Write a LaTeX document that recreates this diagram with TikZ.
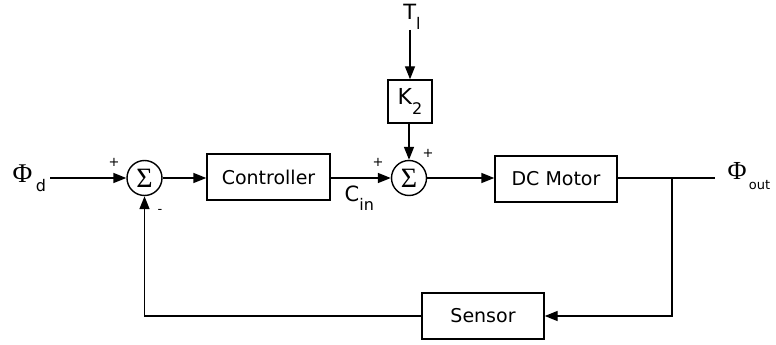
\documentclass[tikz,border=0pt]{standalone}
\usepackage{fontspec}
\setmainfont{DejaVu Sans}
\newfontfamily\grkfont{Liberation Serif}
\usetikzlibrary{positioning, arrows.meta}
\newcommand{\lowtxt}[1]{\raisebox{-0.45em}{\fontsize{16}{18}\selectfont #1}}

\begin{document}
\begin{tikzpicture}[x=1pt, y=-1pt, line width=1.4pt,
    >={Triangle[length=13pt, width=10pt]},
    block/.style={draw, rectangle, inner sep=0pt, minimum height=46pt,
      font=\fontsize{19}{21}\selectfont},
    sumnode/.style={draw, circle, minimum size=35pt, inner sep=0pt,
      font=\grkfont\fontsize{28}{30}\selectfont},
    sig/.style={inner sep=0pt, font=\fontsize{21}{23}\selectfont},
    sgn/.style={inner sep=0pt, font=\fontsize{13}{15}\selectfont}]
  \useasboundingbox (0,0) rectangle (776,345);
  % Bloques
  \node[sumnode] (sumA) at (144.5,178) {Σ};
  \node[block, minimum width=123pt] (ctrl) at (268.5,177) {Controller};
  \node[sumnode] (sumB) at (409,178) {Σ};
  \node[block, minimum width=122pt] (motor) at (556,179) {DC Motor};
  \node[block, minimum width=44pt, minimum height=43pt, font=\fontsize{22}{24}\selectfont]
    (kk) at (410,101.5) {K\lowtxt{2}};
  \node[block, minimum width=122pt] (sensor) at (483,316) {Sensor};
  % Entradas y salida
  \node[sig, anchor=west] (phid) at (12,178) {{\grkfont\fontsize{27}{29}\selectfont Φ}\,\lowtxt{d}};
  \coordinate (din) at (50,178);
  \node[sig, anchor=south] (tl) at (412,30) {T\lowtxt{l}};
  \coordinate (br) at (672,178);
  \coordinate (dout) at (715,178);
  \node[sig, anchor=west] (phio) at (727,176)
    {{\grkfont\fontsize{26}{28}\selectfont Φ}\raisebox{-0.5em}{\fontsize{13}{15}\selectfont\,out}};
  \node[sig, anchor=north west] (cin) at (344,185) {C\lowtxt{in}};
  % Signos
  \foreach \nm/\x/\y/\s in {pa/114/162/+, ma/160/211/-, pb/378/162/+, pc/428/153/+} {
    \node[sgn] (\nm) at (\x,\y) {\s};
  }
  % Conexiones
  \draw[->] (din) -- (sumA.west);
  \draw[->] (sumA.east) -- (ctrl.west |- sumA.east);
  \draw[->] (ctrl.east |- sumB.west) -- (sumB.west);
  \draw[->] (sumB.east) -- (motor.west |- sumB.east);
  \draw[->] (tl.south -| kk.north) -- (kk.north);
  \draw[->] (kk.south -| sumB.north) -- (sumB.north);
  \draw (motor.east |- br) -- (br) -- (dout);
  \draw[->] (br) |- (sensor.east);
  \draw[->] (sensor.west) -| (sumA.south);
\end{tikzpicture}
\end{document}
